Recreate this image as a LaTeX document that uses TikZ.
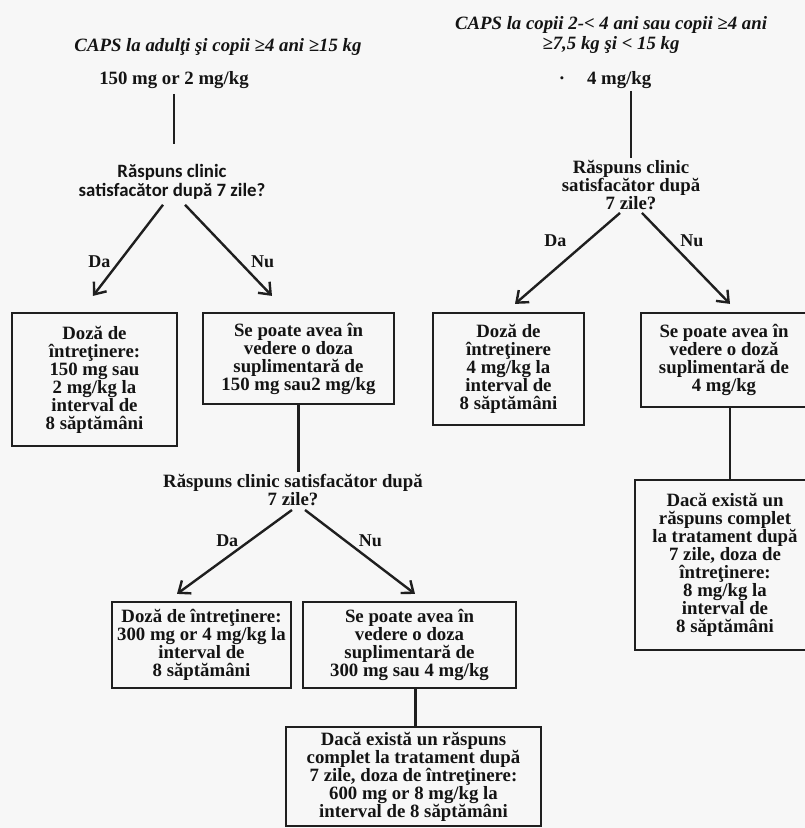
\documentclass[tikz,border=0pt]{standalone}
\usepackage{fontspec}
\setmainfont{Liberation Serif}
\setsansfont{Carlito}
\usetikzlibrary{arrows.meta}

\begin{document}
\begin{tikzpicture}[x=1pt,y=-1pt,
  every node/.style={font=\bfseries\fontsize{18.8}{18}\selectfont, text=black!92, inner sep=2pt},
  box/.style={draw=black!88, line width=2.2pt, align=center, inner sep=0pt},
  q/.style={align=center},
  hd/.style={align=center, font=\bfseries\itshape\fontsize{18.8}{20}\selectfont},
  lbl/.style={font=\bfseries\fontsize{18}{18}\selectfont},
  arr/.style={draw=black!88, line width=2.4pt, -{Straight Barb[length=10pt,width=16pt,line width=2.4pt]}},
  ln/.style={draw=black!88, line width=2.6pt}]
  \fill[black!3] (0,0) rectangle (805,828);
  \useasboundingbox (0,0) rectangle (805,828);
  % left branch
  \node[hd] (h1) at (218,47) {CAPS la adulţi şi copii ≥4 ani ≥15 kg};
  \node (d1) at (174,80) {150 mg or 2 mg/kg};
  \node[q, font=\sffamily\bfseries\fontsize{18.8}{19}\selectfont] (q1) at (172,182) {Răspuns clinic\\satisfacător după 7 zile?};
  \node[box, minimum width=165, minimum height=133] (11) at (94.5,379.5)
    {Doză de\\întreţinere:\\150 mg sau\\2 mg/kg la\\interval de\\8 săptămâni};
  \node[box, minimum width=191, minimum height=91] (12) at (298.5,358.5)
    {Se poate avea în\\vedere o doza\\suplimentară de\\150 mg sau2 mg/kg};
  \node[q] (q2) at (293,490) {Răspuns clinic satisfacător după\\7 zile?};
  \node[box, minimum width=179, minimum height=86] (21) at (201.5,645)
    {Doză de întreţinere:\\300 mg or 4 mg/kg la\\interval de\\8 săptămâni};
  \node[box, minimum width=213, minimum height=86] (22) at (409.5,645)
    {Se poate avea în\\vedere o doza\\suplimentară de\\300 mg sau 4 mg/kg};
  \node[box, minimum width=255, minimum height=99] (23) at (413.5,776.5)
    {Dacă există un răspuns\\complet la tratament după\\7 zile, doza de întreţinere:\\600 mg or 8 mg/kg la\\interval de 8 săptămâni};
  % right branch
  \node[hd] (h2) at (611,35) {CAPS la copii 2-< 4 ani sau copii ≥4 ani\\≥7,5 kg şi < 15 kg};
  \node (d2) at (605,80) {·\hspace{22pt}4 mg/kg};
  \node[q] (q3) at (631,185) {Răspuns clinic\\satisfacător după\\7 zile?};
  \node[box, minimum width=151, minimum height=112] (31) at (508.5,369)
    {Doză de\\întreţinere\\4 mg/kg la\\interval de\\8 săptămâni};
  \node[box, minimum width=166, minimum height=94] (32) at (724,360)
    {Se poate avea în\\vedere o dozǎ\\suplimentară de\\4 mg/kg};
  \node[box, minimum width=180, minimum height=170] (33) at (725,565)
    {Dacă există un\\răspuns complet\\la tratament după\\7 zile, doza de\\întreţinere:\\8 mg/kg la\\interval de\\8 săptămâni};
  \path (d1.south) edge[ln, shorten <=3pt, shorten >=18pt] (d1.south |- q1.north)
        ([xshift=-9pt,yshift=-3pt]q1.south) edge[arr] node[lbl, pos=.62, left=6pt] {Da} ([xshift=-1.5pt,yshift=16pt]11.north)
        ([xshift=13pt,yshift=-3pt]q1.south) edge[arr] node[lbl, pos=.62, right=9pt] {Nu} ([xshift=-26.5pt,yshift=16pt]12.north)
        (12.south) edge[ln] (12.south |- q2.north)
        ([xshift=-1pt,yshift=-2pt]q2.south) edge[arr] node[lbl, pos=.37, left=8pt] {Da} ([xshift=-24.5pt,yshift=7pt]21.north)
        ([xshift=12pt,yshift=-2pt]q2.south) edge[arr] node[lbl, pos=.37, right=10pt] {Nu} ([xshift=5.5pt,yshift=7pt]22.north)
        ([xshift=6pt]22.south) edge[ln] ([xshift=6pt]22.south |- 23.north)
        (q3.north |- d2.south) edge[ln] (q3.north)
        ([xshift=-11pt,yshift=-1pt]q3.south) edge[arr] node[lbl, pos=.31, left=18pt] {Da} ([xshift=6.5pt,yshift=8pt]31.north)
        ([xshift=11pt,yshift=-1pt]q3.south) edge[arr] node[lbl, pos=.31, right=8pt] {Nu} ([xshift=6pt,yshift=8pt]32.north)
        ([xshift=6pt]32.south) edge[ln] ([xshift=6pt]32.south |- 33.north);
\end{tikzpicture}
\end{document}
